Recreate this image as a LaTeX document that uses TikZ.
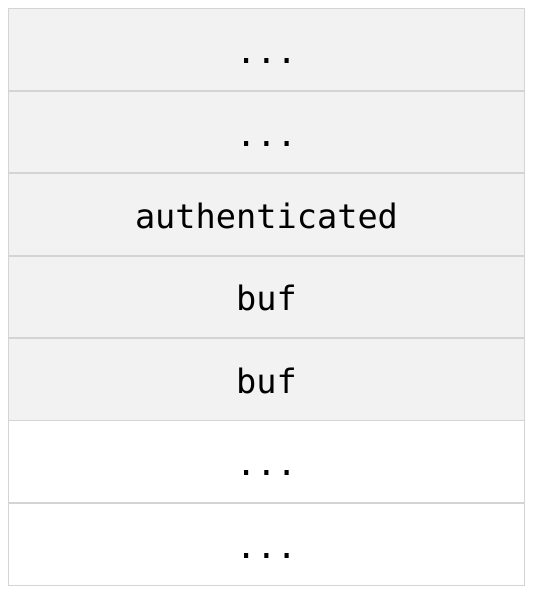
\documentclass[tikz,border=0pt]{standalone}
\usepackage{fontspec}
\setmonofont{DejaVu Sans Mono}
\definecolor{cellfill}{HTML}{F2F2F2}
\definecolor{cellline}{HTML}{D4D4D4}
\begin{document}
\begin{tikzpicture}[x=1pt,y=-1pt,
  cellbox/.style={draw=cellline,line width=1.6pt,minimum width=516pt,minimum height=82.4pt,inner sep=0pt,outer sep=0pt,anchor=north west,
    text height=28pt,text depth=0pt,
    font=\ttfamily\fontsize{33.6}{40}\selectfont},
  graycell/.style={cellbox,fill=cellfill},
  whitecell/.style={cellbox,fill=white}]
\useasboundingbox (0,0) rectangle (532,593);
\node[graycell] (r1) at (8.5,8.5) {...};
\node[graycell] (r2) at (r1.south west) {...};
\node[graycell] (r3) at (r2.south west) {authenticated};
\node[graycell] (r4) at (r3.south west) {buf};
\node[graycell] (r5) at (r4.south west) {buf};
\node[whitecell] (r6) at (r5.south west) {...};
\node[whitecell] (r7) at (r6.south west) {...};
\end{tikzpicture}
\end{document}
